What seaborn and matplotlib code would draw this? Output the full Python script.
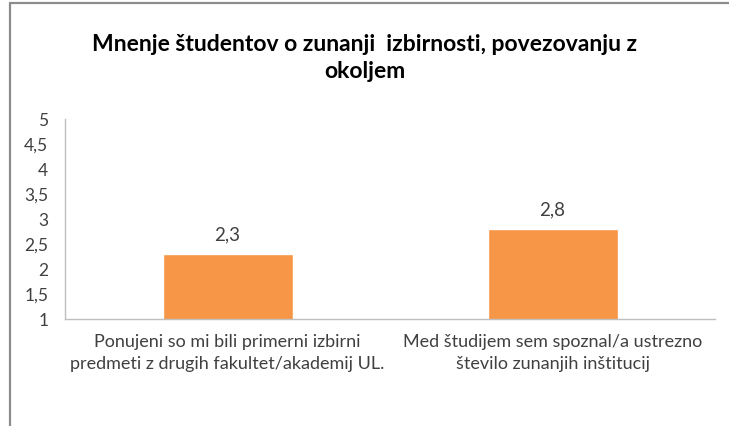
import matplotlib
matplotlib.use("Agg")
import matplotlib.pyplot as plt
import seaborn as sns
import pandas as pd
from matplotlib.lines import Line2D

categories = ["Ponujeni so mi bili primerni izbirni\npredmeti z drugih fakultet/akademij UL.",
              "Med študijem sem spoznal/a ustrezno\nštevilo zunanjih inštitucij"]
values = [2.3, 2.8]
yticks = [1, 1.5, 2, 2.5, 3, 3.5, 4, 4.5, 5]
title = "Mnenje študentov o zunanji  izbirnosti, povezovanju z\nokoljem"

sns.set_theme(style="white")
plt.rcParams['font.family'] = ['Lato', 'DejaVu Sans']

df = pd.DataFrame({"cat": categories, "val": values})

fig = plt.figure(figsize=(7.29, 4.26), dpi=100)
ax = fig.add_axes([65/729, 1-319/426, 650/729, 200/426])
sns.barplot(data=df, x="cat", y="val", color="#F79646", saturation=1, width=0.4, ax=ax)
ax.set_ylim(1, 5)
ax.set_xlim(-0.5, 1.5)
ax.set_yticks(yticks)
ax.set_yticklabels([f"{t:g}".replace(".", ",") for t in yticks], fontsize=12.5, color="#404040")
ax.tick_params(axis="x", labelsize=13, colors="#404040", length=0, pad=11)
ax.tick_params(axis="y", length=0, pad=12)
for lab in ax.get_xticklabels():
    lab.set_linespacing(1.45)
for lab in ax.get_yticklabels():
    lab.set_horizontalalignment("right")
ax.set_xlabel("")
ax.set_ylabel("")
for s in ["top", "right"]:
    ax.spines[s].set_visible(False)
for s in ["left", "bottom"]:
    ax.spines[s].set_color("#BFBFBF")
    ax.spines[s].set_linewidth(1.0)

for i, v in enumerate(values):
    ax.annotate(f"{v:g}".replace(".", ","), (i, v), xytext=(0, 8), textcoords="offset points",
                ha="center", va="bottom", fontsize=13.5, color="#404040")

fig.text(0.5, 1-58/426, title, ha="center", va="center", fontsize=16.5, fontweight="bold",
         color="black", linespacing=1.3)

fig.add_artist(Line2D([10/729, 10/729], [-0.1, 1-3/426], transform=fig.transFigure,
                      color="#8C8C8C", lw=1.6))
fig.add_artist(Line2D([10/729, 1.1], [1-3/426, 1-3/426], transform=fig.transFigure,
                      color="#8C8C8C", lw=1.6))

fig.savefig("out.png", dpi=100)
